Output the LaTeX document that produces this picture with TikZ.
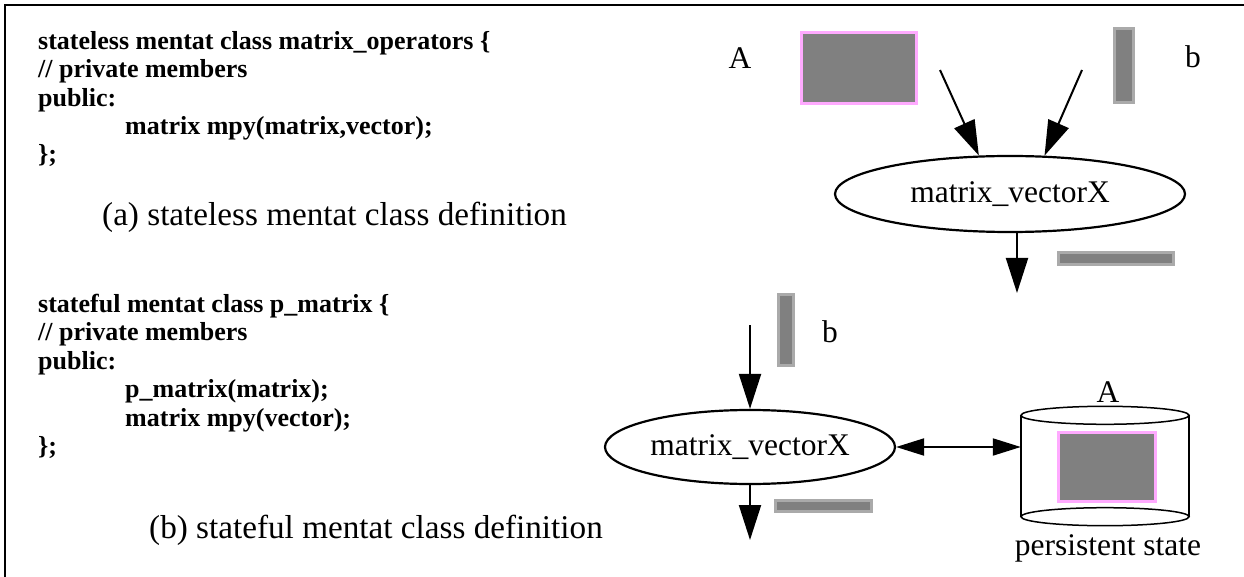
\documentclass[tikz,border=0pt]{standalone}
\usepackage{fontspec}
\setmainfont{Liberation Serif}
\usetikzlibrary{arrows.meta,shapes.geometric}
\definecolor{mentatgray}{HTML}{808080}
\definecolor{mentatedge}{HTML}{AAAAAA}
\definecolor{mentatpink}{HTML}{FFAAFF}

\begin{document}
\begin{tikzpicture}[
  x=1pt, y=-1pt,
  code/.style={font=\fontsize{26}{28.4}\selectfont\bfseries, align=left,
               anchor=north west, inner sep=0},
  lbl/.style={font=\fontsize{31.5}{36}\selectfont, inner sep=0},
  caption/.style={font=\fontsize{33.2}{38}\selectfont, inner sep=0, anchor=base west},
  op/.style={ellipse, draw, line width=2.2pt, inner sep=0,
             font=\fontsize{31.5}{36}\selectfont},
  bar/.style={rectangle, fill=mentatgray, draw=mentatedge, line width=3pt, inner sep=0},
  mat/.style={rectangle, fill=mentatgray, draw=mentatpink, line width=3pt, inner sep=0},
  flow/.style={-{Triangle[length=35pt, width=22pt]}, line width=2pt},
  both/.style={{Triangle[length=28pt, width=17pt]}-{Triangle[length=28pt, width=17pt]}, line width=2pt},
  frame/.style={line width=2pt}
]
  \useasboundingbox (0,0) rectangle (1244,577);
  \draw[frame] (5,577) -- (5,5) -- (1244,5);

  % (a) stateless
  \node[code] (defa) at (38,31) {stateless mentat class matrix\_operators \{\\
    // private members\\
    public:\\
    \hspace*{87pt}matrix mpy(matrix,vector);\\
    \};};
  \node[caption] (capa) at (102,226) {(a) stateless mentat class definition};

  \node[lbl] (labA) at (740,58) {A};
  \node[mat, minimum width=115pt, minimum height=71pt] (matA) at (859,68) {};
  \node[bar, minimum width=19pt, minimum height=74pt] (vecb) at (1124,66) {};
  \node[lbl] (labb) at (1193,57) {b};
  \node[op, minimum width=350pt, minimum height=76pt] (mvtop) at (1010,194) {matrix\_vectorX};
  \node[bar, minimum width=115pt, minimum height=12pt] (restop) at (1116,258.5) {};

  \coordinate (inA) at (940,70);
  \coordinate (inb) at (1082,70);
  \coordinate (outtop) at (1017,293);
  \draw[flow] (inA) -- (mvtop.129);
  \draw[flow] (inb) -- (mvtop.48);
  \draw[flow] (mvtop.south -| outtop) -- (outtop);

  % (b) stateful
  \node[code] (defb) at (38,294) {stateful mentat class p\_matrix \{\\
    // private members\\
    public:\\
    \hspace*{87pt}p\_matrix(matrix);\\
    \hspace*{87pt}matrix mpy(vector);\\
    \};};
  \node[caption] (capb) at (149,538) {(b) stateful mentat class definition};

  \node[bar, minimum width=15pt, minimum height=71pt] (vecb2) at (786,330) {};
  \node[lbl] (labb2) at (830,332) {b};
  \node[op, minimum width=290pt, minimum height=74pt] (mvbot) at (750,447) {matrix\_vectorX};
  \node[bar, minimum width=96pt, minimum height=11pt] (resbot) at (823.5,506) {};

  \coordinate (inb2) at (750,325);
  \coordinate (outbot) at (750,540);
  \draw[flow] (inb2) -- (mvbot.north);
  \draw[flow] (mvbot.south) -- (outbot);

  % persistent state
  \node[minimum width=168pt, minimum height=101pt, inner sep=0] (db) at (1105,466) {};
  \draw[line width=2pt] (db.north west) -- (db.south west);
  \draw[line width=2pt] (db.north east) -- (db.south east);
  \draw[line width=1.5pt] (db.north) ellipse [x radius=84pt, y radius=9pt];
  \draw[line width=1.5pt] (db.south) ellipse [x radius=84pt, y radius=9pt];
  \node[mat, minimum width=97pt, minimum height=69pt] (matA2) at (1107,467) {};
  \node[lbl] (labA2) at (1108,392) {A};
  \node[lbl] (persist) at (1108,548) {persistent state};

  \draw[both] (mvbot.east) -- (db.west |- mvbot.east);
\end{tikzpicture}
\end{document}
